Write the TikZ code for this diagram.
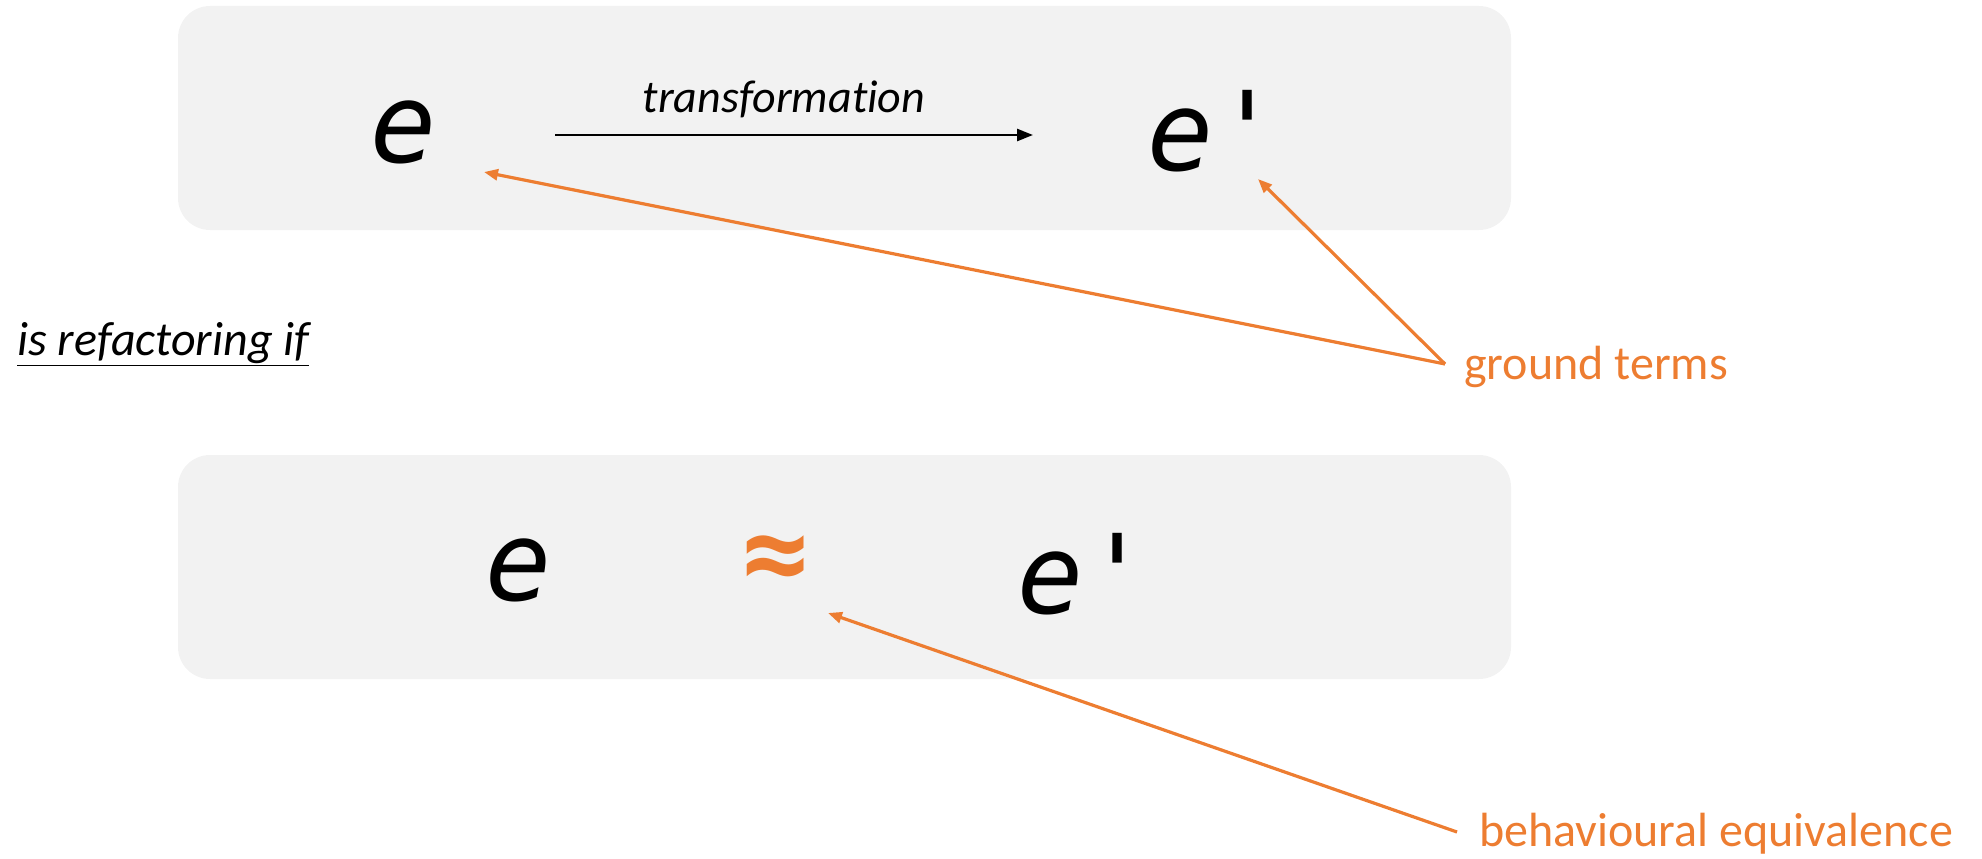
\documentclass[tikz,border=0pt]{standalone}
\usepackage{fontspec}
\setmainfont{Carlito}[Ligatures=NoCommon]
\newfontfamily\termfont{DejaVu Sans Mono}
\usetikzlibrary{arrows.meta}
\definecolor{accent}{HTML}{ED7D31}
\definecolor{panel}{HTML}{F2F2F2}
\tikzset{
  panelbox/.style={fill=panel, draw=none, rounded corners=32pt},
  term/.style={font=\termfont\itshape\fontsize{110}{110}\selectfont, inner sep=0pt},
  caption/.style={font=\fontsize{48}{48}\selectfont, inner sep=0pt},
  pointer/.style={draw=accent, line width=3.2pt, -{Triangle[length=14pt,width=11pt]}},
  mainarrow/.style={draw=black, line width=2.5pt, -{Triangle[length=16pt,width=12pt]}}
}
\begin{document}
\begin{tikzpicture}[x=1pt,y=-1pt]
  \useasboundingbox (0,0) rectangle (1982,859);
  % two grey panels
  \path[panelbox] (178,6) rectangle (1511,230);
  \path[panelbox] (178,455) rectangle (1511,679);
  % upper panel: the transformation
  \node[term] (e1) at (404,132) {e};
  \node[term] (e1p) at (1214,131) {e'};
  \node[caption, font=\itshape\fontsize{46}{46}\selectfont] (tr) at (784,99) {transformation};
  \coordinate (a1) at (555,135);
  \coordinate (a2) at (1033,135);
  \draw[mainarrow] (a1) -- (a2);
  % condition
  \node[caption, font=\itshape\fontsize{48}{48}\selectfont, anchor=west] (cond) at (17,344) {\underline{is refactoring if}};
  % lower panel: equivalence
  \node[term] (e2) at (519,570) {e};
  \node[term, text=accent, font=\termfont\bfseries\fontsize{110}{110}\selectfont] (eq) at (776,563) {≈};
  \node[term] (e2p) at (1084,574) {e'};
  % annotations
  \node[caption, text=accent, anchor=west] (gt) at (1464,367) {ground terms};
  \node[caption, text=accent, anchor=west] (be) at (1479,834) {behavioural equivalence};
  \coordinate (g0) at (1445,364);
  \coordinate (b0) at (1457,832);
  \coordinate (p1) at (484,172);
  \coordinate (p2) at (1258,179);
  \coordinate (p3) at (828,613);
  \draw[pointer] (g0) -- (p1);
  \draw[pointer] (g0) -- (p2);
  \draw[pointer] (b0) -- (p3);
\end{tikzpicture}
\end{document}
